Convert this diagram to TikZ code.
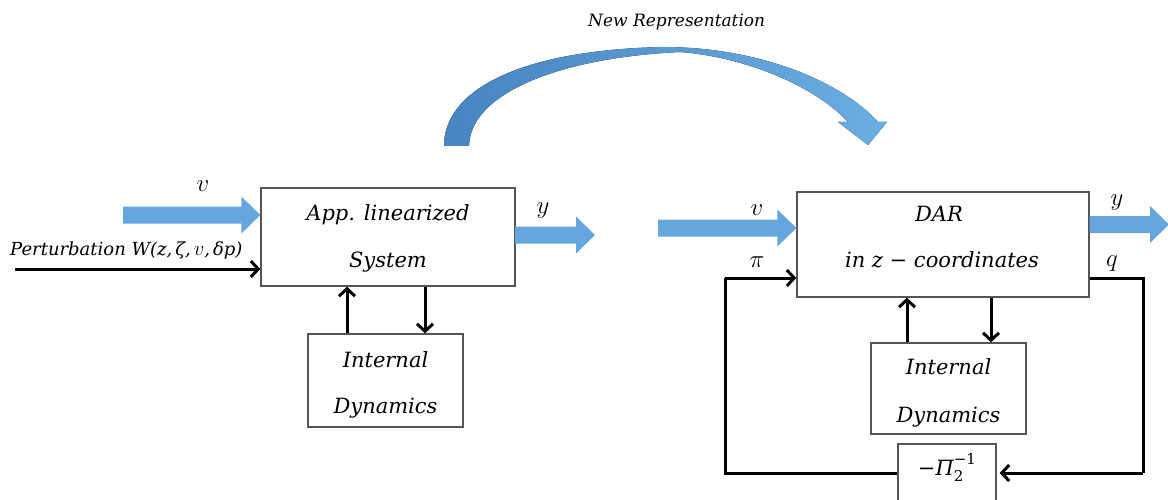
\documentclass[tikz,border=0pt]{standalone}
\usepackage{fontspec}
\setmainfont{DejaVu Serif}
\usetikzlibrary{arrows.meta,calc}

\definecolor{flowblue}{RGB}{100,166,221}
\definecolor{flowdark}{RGB}{72,132,192}
\definecolor{flowlight}{RGB}{106,174,228}
\definecolor{frame}{RGB}{85,85,85}

% wide blue block arrow from #1 to #2 (same height)
\newcommand\blockarrow[2]{%
  \fill[flowblue] ($(#1)+(0,-8.5)$) -- ($(#2)+(-19,-8.5)$) -- ($(#2)+(-19,-18.5)$)
    -- (#2) -- ($(#2)+(-19,18.5)$) -- ($(#2)+(-19,8.5)$) -- ($(#1)+(0,8.5)$) -- cycle;}

\begin{document}
\begin{tikzpicture}[x=1pt,y=-1pt,
  box/.style={draw=frame, line width=1.3pt, inner sep=0pt, fill=white},
  sig/.style={line width=3pt, -{Straight Barb[length=7.5pt,width=16pt,line width=3pt]}},
  lbl/.style={anchor=base, inner sep=0pt, font=\fontsize{24}{28}\selectfont},
  boxtext/.style={anchor=base, inner sep=0pt, font=\fontsize{21}{25}\selectfont\itshape},
  note/.style={anchor=base west, inner sep=0pt, font=\fontsize{17}{20}\selectfont\itshape}]

\useasboundingbox (0,0) rectangle (1168,500);
\clip (0,0) rectangle (1168,500);

% ---------- curved "new representation" arrow ----------
\fill[left color=flowdark, right color=flowlight]
  (444,146) .. controls (444,90) and (520,50) .. (663,47)
            .. controls (760,47) and (842,82) .. (878,122)
  -- (887,122) -- (868,145) -- (838,122) -- (848,122)
            .. controls (815,86) and (745,57) .. (680,52)
            .. controls (555,58) and (470,95) .. (469,146) -- cycle;
\node[note] (newrep) at (588,27) {New Representation};

% ---------- left system ----------
\node[box, minimum width=254pt, minimum height=98pt] (lin) at (388,237) {};
\node[boxtext] (linA) at (388,220) {App. linearized};
\node[boxtext] (linB) at (388,267) {System};

\node[box, minimum width=155pt, minimum height=93pt] (intL) at (385.5,380.5) {};
\node[boxtext] (intLA) at (385.5,367) {Internal};
\node[boxtext] (intLB) at (385.5,413) {Dynamics};

\coordinate (upL) at (347,0);
\coordinate (dnL) at (425,0);
\draw[sig] (upL |- intL.north) -- (upL |- lin.south);
\draw[sig] (dnL |- lin.south) -- (dnL |- intL.north);

% input v
\coordinate (vL0) at (123,215);
\coordinate (vL1) at (vL0 -| lin.west);
\blockarrow{vL0}{vL1}
\node[lbl] (vLlab) at (203,192) {$v$};

% perturbation input
\coordinate (pIn) at (15,269);
\draw[sig] (pIn) -- (pIn -| lin.west);
\node[note, font=\fontsize{18}{21}\selectfont\itshape] (pert) at (10,255)
  {Perturbation W(z,\,ζ,\,{\fontsize{22}{24}\selectfont$v$},\,δp)};

% output y
\coordinate (yL0) at (515,235);
\coordinate (yL1) at (595,235);
\blockarrow{yL0}{yL1}
\node[lbl] (yLlab) at (543,213) {$y$};

% ---------- right system ----------
\node[box, minimum width=292pt, minimum height=105pt] (dar) at (943,244.5) {};
\node[boxtext] (darA) at (939,222) {DAR};
\node[boxtext] (darB) at (942,267) {in z − coordinates};

\node[box, minimum width=155pt, minimum height=91pt] (intR) at (948.5,388.5) {};
\node[boxtext] (intRA) at (948.5,374) {Internal};
\node[boxtext] (intRB) at (948.5,422) {Dynamics};

\node[box, minimum width=98pt, minimum height=58pt] (pinv) at (947,473) {};
\node[boxtext] (pinvA) at (947,475)
  {−Π\rlap{\raisebox{-0.3em}{\fontsize{15}{18}\selectfont\upshape 2}}\raisebox{0.5em}{\fontsize{15}{18}\selectfont\upshape −1}};

\coordinate (upR) at (907,0);
\coordinate (dnR) at (991,0);
\draw[sig] (upR |- intR.north) -- (upR |- dar.south);
\draw[sig] (dnR |- dar.south) -- (dnR |- intR.north);

% input v
\coordinate (vR0) at (658,228);
\coordinate (vR1) at (vR0 -| dar.west);
\blockarrow{vR0}{vR1}
\node[lbl] (vRlab) at (757,215) {$v$};

% output y
\coordinate (yR1) at (1169,224.5);
\coordinate (yR0) at (yR1 -| dar.east);
\blockarrow{yR0}{yR1}
\node[lbl] (yRlab) at (1117,206) {$y$};

% feedback loop q -> -Pi_2^{-1} -> pi
\coordinate (piIn) at ($(dar.west)+(0,33.5)$);
\coordinate (qOut) at ($(dar.east)+(0,33.5)$);
\coordinate (fbL) at (725,0);
\coordinate (fbR) at (1143,0);
\draw[line width=3pt] (qOut) -| (fbR |- pinv.east);
\draw[sig] (fbR |- pinv.east) -- ($(pinv.east)+(3,0)$);
\draw[line width=3pt] (pinv.west) -| (fbL |- piIn);
\draw[sig] (fbL |- piIn) -- (piIn);
\node[lbl] (piLab) at (757,267) {$\pi$};
\node[lbl] (qLab) at (1112,266) {$q$};

\end{tikzpicture}
\end{document}
